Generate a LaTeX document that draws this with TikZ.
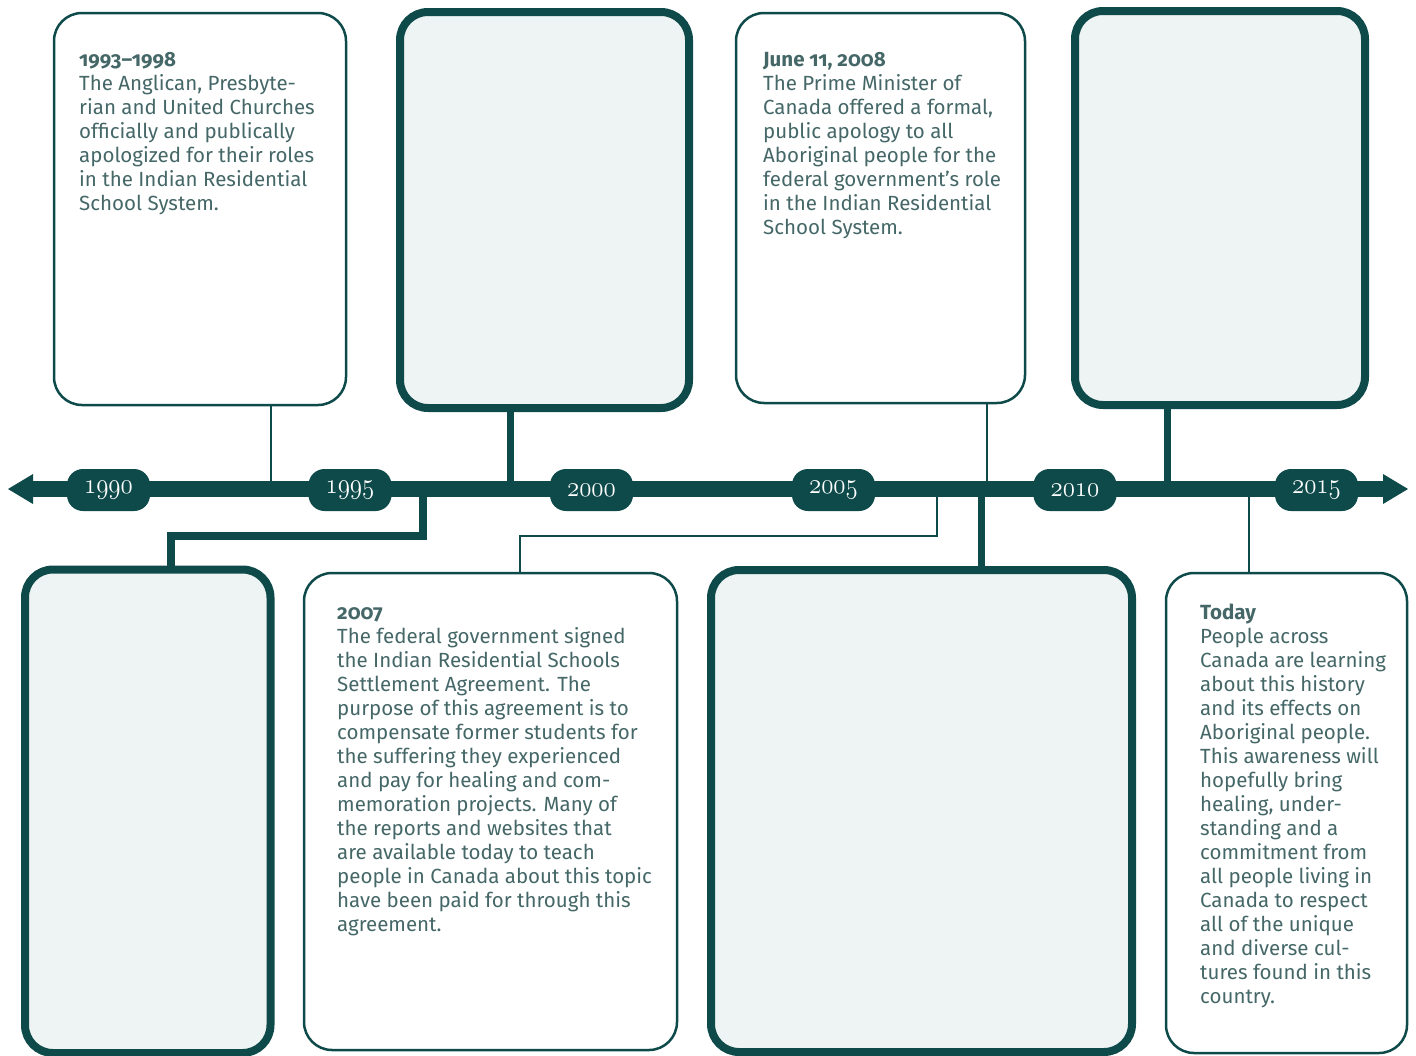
\documentclass[tikz,border=0pt]{standalone}
\usepackage{fontspec}
\usepackage{graphicx}
\setmainfont{Fira Sans}
\newfontfamily\titlefont{Fira Sans}[Numbers=OldStyle]
\definecolor{teal}{HTML}{0F4A4A}
\definecolor{txt}{HTML}{456767}
\definecolor{pale}{HTML}{EEF4F3}
\tikzset{
  thinbox/.style={draw=teal, line width=2.5pt, fill=white, rounded corners=28pt, inner sep=0pt},
  thickbox/.style={draw=teal, line width=8pt, fill=pale, rounded corners=28pt, inner sep=0pt},
  pill/.style={fill=teal, rounded corners=16pt, minimum width=83pt, minimum height=42pt, inner sep=0pt, text=white, font=\fontsize{24.88}{26}\selectfont},
  thinline/.style={draw=teal, line width=2.5pt},
  thickline/.style={draw=teal, line width=7pt, line cap=butt, line join=miter},
  body/.style={anchor=north west, align=left, inner sep=0pt, text=txt, font=\fontsize{20.5}{24}\selectfont},
}
\newcommand{\ttl}[1]{\rule{0pt}{18pt}{\titlefont\bfseries #1}}
\newcommand{\yr}[1]{\scalebox{1.0}[1.15]{$\mathnormal{#1}$}}
\begin{document}
\begin{tikzpicture}[x=1pt,y=-1pt]
\useasboundingbox (0,0) rectangle (1416,1055);
% boxes
\node[thinbox, minimum width=292pt, minimum height=392pt] (A) at (200,209) {};
\node[thickbox, minimum width=289pt, minimum height=396pt] (B) at (544.5,210) {};
\node[thinbox, minimum width=289pt, minimum height=390pt] (C) at (880.5,208) {};
\node[thickbox, minimum width=290pt, minimum height=394pt] (D) at (1220,208) {};
\node[thickbox, minimum width=245.5pt, minimum height=483.5pt] (E) at (147.75,811.25) {};
\node[thinbox, minimum width=373pt, minimum height=477pt] (F) at (490.5,811.5) {};
\node[thickbox, minimum width=421pt, minimum height=482pt] (G) at (921.5,811) {};
\node[thinbox, minimum width=241pt, minimum height=480pt] (H) at (1286.5,813) {};
% axis coordinates
\coordinate (L) at (8,489);
\coordinate (R) at (1408,489);
\coordinate (tA) at (271,489);
\coordinate (tB) at (510.5,489);
\coordinate (tE) at (422.5,489);
\coordinate (tF) at (937,489);
\coordinate (tC) at (987,489);
\coordinate (tG) at (981,489);
\coordinate (tD) at (1167.5,489);
\coordinate (tH) at (1249,489);
% connectors
\draw[thinline] (tA |- A.south) -- (tA);
\draw[thickline] (tB |- B.south) -- (tB);
\draw[thickline, line width=8pt] (tE) -- (422.5,535.5) -- (171,535.5) -- (171,0 |- E.north);
\draw[thinline] (tF) -- (937,536) -- (520,536) -- (520,0 |- F.north);
\draw[thinline] (tC |- C.south) -- (tC);
\draw[thickline] (tG) -- (tG |- G.north);
\draw[thickline] (tD |- D.south) -- (tD);
\draw[thinline] (tH) -- (tH |- H.north);
% axis
\draw[teal, line width=16pt] ([xshift=25pt]L) -- ([xshift=-25pt]R);
\fill[teal] (L) -- ++(25,-15) -- ++(0,30) -- cycle;
\fill[teal] (R) -- ++(-25,-15) -- ++(0,30) -- cycle;
% pills
\node[pill] (p1990) at (108.5,490) {\yr{1990}};
\node[pill] (p1995) at (350,490) {\yr{1995}};
\node[pill] (p2000) at (591.5,490) {\yr{2000}};
\node[pill] (p2005) at (833.5,490) {\yr{2005}};
\node[pill] (p2010) at (1075,490) {\yr{2010}};
\node[pill] (p2015) at (1316.5,490) {\yr{2015}};
% texts
\node[body] (tx1) at (79,48.5) {\ttl{1993–1998}\\
The Anglican, Presbyte-\\
rian and United Churches\\
officially and publically\\
apologized for their roles\\
in the Indian Residential\\
School System.};
\node[body] (tx2) at (763,48.5) {\ttl{June 11, 2008}\\
The Prime Minister of\\
Canada offered a formal,\\
public apology to all\\
Aboriginal people for the\\
federal government’s role\\
in the Indian Residential\\
School System.};
\node[body] (tx3) at (337,601.5) {\ttl{2007}\\
The federal government signed\\
the Indian Residential Schools\\
Settlement Agreement. The\\
purpose of this agreement is to\\
compensate former students for\\
the suffering they experienced\\
and pay for healing and com-\\
memoration projects. Many of\\
the reports and websites that\\
are available today to teach\\
people in Canada about this topic\\
have been paid for through this\\
agreement.};
\node[body] (tx4) at (1200,601.5) {\ttl{Today}\\
People across\\
Canada are learning\\
about this history\\
and its effects on\\
Aboriginal people.\\
This awareness will\\
hopefully bring\\
healing, under-\\
standing and a\\
commitment from\\
all people living in\\
Canada to respect\\
all of the unique\\
and diverse cul-\\
tures found in this\\
country.};
\end{tikzpicture}
\end{document}
